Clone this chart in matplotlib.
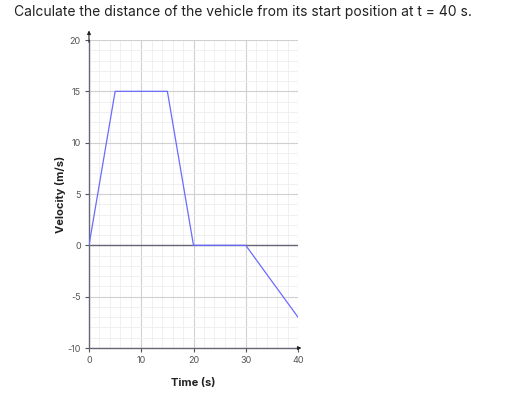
import numpy as np
import matplotlib.pyplot as plt

# velocity-time data
t = [0, 5, 15, 20, 30, 40]
v = [0, 15, 15, 0, 0, -7]
xticks = [0, 10, 20, 30, 40]
yticks = [-10, -5, 0, 5, 10, 15, 20]

plt.rcParams['font.family'] = ['Inter', 'DejaVu Sans']
plt.rcParams['axes.unicode_minus'] = False

fig = plt.figure(figsize=(5.21, 3.98), dpi=100)
fig.text(14 / 521, 1 - 12 / 398, "Calculate the distance of the vehicle from its start position at t = 40 s.",
         fontsize=10, color='#222222', va='center', ha='left')

ax = fig.add_axes([89 / 521, 1 - 348 / 398, 209 / 521, 308 / 398])
ax.set_xlim(0, 40)
ax.set_ylim(-10, 20)

ax.set_xticks(xticks)
ax.set_yticks(yticks)
ax.set_xticks(np.arange(0, 41, 2), minor=True)
ax.set_yticks(np.arange(-10, 21, 1), minor=True)
ax.grid(True, which='major', color='#d0d0d0', linewidth=0.8)
ax.grid(True, which='minor', color='#eeeeee', linewidth=0.6)
ax.tick_params(which='minor', length=0)
ax.tick_params(which='major', length=3, width=0.8, color='#555555', labelsize=6.5, labelcolor='#555555', pad=3)

for s in ['top', 'right']:
    ax.spines[s].set_visible(False)
for s in ['left', 'bottom']:
    ax.spines[s].set_color('#666677')
    ax.spines[s].set_linewidth(1.0)

ax.axhline(0, color='#666677', linewidth=1.0, zorder=2)
ax.plot(t, v, color='#6b6bff', linewidth=0.9, zorder=3)

# arrow heads on the axes
ax.annotate('', xy=(0, 21.2), xytext=(0, 19.5), annotation_clip=False,
            arrowprops=dict(arrowstyle='-|>', color='#222222', lw=0.8, mutation_scale=5))
ax.annotate('', xy=(41.2, -10), xytext=(39.5, -10), annotation_clip=False,
            arrowprops=dict(arrowstyle='-|>', color='#222222', lw=0.8, mutation_scale=5))

ax.set_xlabel('Time (s)', fontsize=8, fontweight='bold', color='#222222', labelpad=9)
ax.set_ylabel('Velocity (m/s)', fontsize=8, fontweight='bold', color='#222222', labelpad=1)

fig.savefig('out.png', dpi=100)
